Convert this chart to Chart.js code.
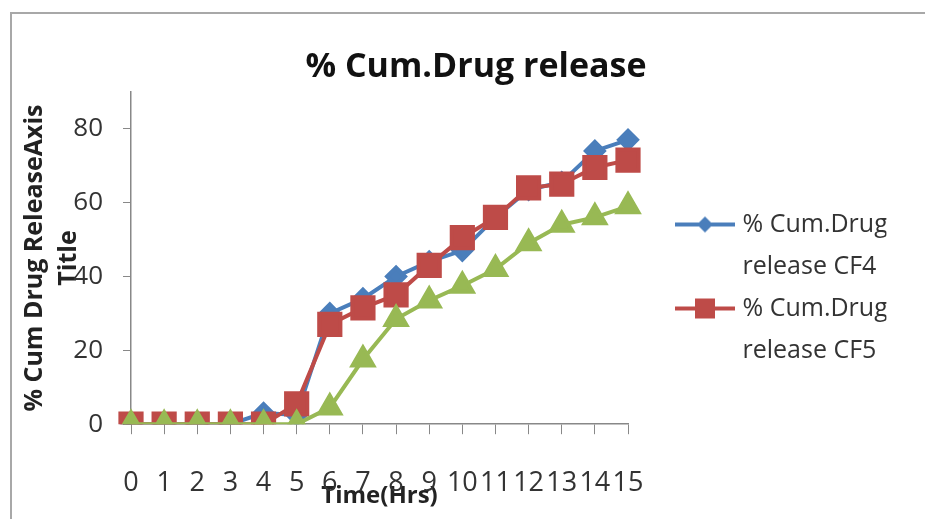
<!DOCTYPE html>
<html>
<head>
<meta charset="utf-8">
<script src="https://cdn.jsdelivr.net/npm/chart.js@4.4.1/dist/chart.umd.min.js"></script>
<style>
  html, body { margin: 0; padding: 0; background: #fff; }
  #wrap { position: relative; width: 925px; height: 519px; }
  #frame { position: absolute; left: 10px; top: 12px; right: 0; bottom: 0;
           border-left: 2px solid #a8a8a8; border-top: 2px solid #a8a8a8; pointer-events: none; }
</style>
</head>
<body>
<div id="wrap">
  <canvas id="myChart"></canvas>
  <div id="frame"></div>
</div>
<script>
// hours on the x axis
const hours = ['0','1','2','3','4','5','6','7','8','9','10','11','12','13','14','15'];
// % cumulative drug release
const cf4 = [0, 0, 0, 0, 3, 2.5, 30, 34, 40, 44, 47, 56, 63.5, 65.5, 74, 77];
const cf5 = [0, 0, 0, 0, 0, 5.5, 27, 31.5, 35, 43, 50.5, 56, 64, 65, 69.5, 71.5];
const cf6 = [0, 0, 0, 0, 0, 0, 4.5, 17.5, 28.5, 33.5, 37.5, 42, 49, 54, 56, 59];
const yTicks = [0, 20, 40, 60, 80];

const blue = '#4a7ebb';
const red = '#be4b48';
const green = '#98b954';
const font = "'Open Sans', 'Liberation Sans', sans-serif";

// line + marker picture for the legend (left part left empty on purpose,
// so the sample sits a bit away from the plot)
function legendIcon(color, shape) {
  const c = document.createElement('canvas');
  c.width = 112; c.height = 24;
  const g = c.getContext('2d');
  g.strokeStyle = color; g.lineWidth = 4;
  g.beginPath(); g.moveTo(52, 12); g.lineTo(112, 12); g.stroke();
  g.fillStyle = color;
  g.beginPath();
  if (shape === 'diamond') {
    g.moveTo(82, 4); g.lineTo(90, 12); g.lineTo(82, 20); g.lineTo(74, 12);
  } else {
    g.rect(72, 2, 20, 20);
  }
  g.closePath(); g.fill();
  return c;
}
const icons = [legendIcon(blue, 'diamond'), legendIcon(red, 'square')];

const ctx = document.getElementById('myChart').getContext('2d');
const myChart = new Chart(ctx, {
  type: 'line',
  data: {
    labels: hours,
    datasets: [
      { label: '% Cum.Drug release CF4', data: cf4, borderColor: blue, backgroundColor: blue,
        pointStyle: 'rectRot', pointRadius: 9, borderWidth: 4, order: 3 },
      { label: '% Cum.Drug release CF5', data: cf5, borderColor: red, backgroundColor: red,
        pointStyle: 'rect', pointRadius: 15, borderWidth: 4, order: 2 },
      { label: '% Cum.Drug release CF6', data: cf6, borderColor: green, backgroundColor: green,
        pointStyle: 'triangle', pointRadius: 12, borderWidth: 4, order: 1 }
    ]
  },
  options: {
    responsive: true,
    maintainAspectRatio: false,
    animation: false,
    events: [],
    layout: { padding: { left: 40, right: 13, top: 0, bottom: 4 } },
    elements: { line: { tension: 0 }, point: { borderWidth: 0 } },
    plugins: {
      title: {
        display: true,
        text: '% Cum.Drug release',
        color: '#111',
        font: { family: font, size: 34, weight: 'bold', lineHeight: 1.2 },
        padding: { top: 47, bottom: 4 }
      },
      legend: {
        position: 'right',
        align: 'start',
        maxWidth: 400,
        title: { display: true, text: ' ', font: { size: 10 }, padding: { top: 200, bottom: 0 } },
        labels: {
          usePointStyle: true,
          pointStyleWidth: 102,
          padding: 0,
          color: '#333',
          font: { family: font, size: 25, lineHeight: 1.68 },
          generateLabels: chart => chart.data.datasets.slice(0, 2).map((ds, i) => {
            const cut = ds.label.indexOf(' release');
            return {
              text: [ds.label.slice(0, cut), ds.label.slice(cut + 1)],
              pointStyle: icons[i],
              fillStyle: ds.borderColor,
              strokeStyle: ds.borderColor,
              lineWidth: 0,
              hidden: false,
              datasetIndex: i,
              fontColor: '#333'
            };
          })
        }
      },
      tooltip: { enabled: false }
    },
    scales: {
      x: {
        offset: false,
        grid: { drawOnChartArea: false, drawTicks: true, tickLength: 10, color: '#888' },
        border: { color: '#888', width: 1.5 },
        ticks: { autoSkip: false, maxRotation: 0, minRotation: 0, padding: 33, color: '#333',
                 font: { family: font, size: 27 } },
        title: { display: true, text: 'Time(Hrs)', color: '#222',
                 font: { family: font, size: 24, weight: 'bold', lineHeight: 1.2 },
                 padding: { top: -51, bottom: 4.6 } }
      },
      y: {
        min: 0,
        max: 90,
        afterBuildTicks: s => { s.ticks = yTicks.map(v => ({ value: v })); },
        afterFit: s => { s.width = 91; },
        grid: { drawOnChartArea: false, drawTicks: true, tickLength: 8, color: '#888' },
        border: { color: '#888', width: 1.5 },
        ticks: { padding: 20, color: '#333', font: { family: font, size: 26 } },
        title: { display: true, text: ['% Cum Drug ReleaseAxis', 'Title'], color: '#222',
                 font: { family: font, size: 25, weight: 'bold', lineHeight: 1.36 },
                 padding: { top: -22, bottom: 0 } }
      },
      edge: {
        axis: 'y', position: 'right', display: true, weight: 2000,
        grid: { display: false }, border: { display: false }, ticks: { display: false },
        afterFit: s => { s.width = Math.max(0, 284 - (s.chart.legend ? s.chart.legend.width : 250)); }
      }
    }
  }
});
</script>
</body>
</html>
